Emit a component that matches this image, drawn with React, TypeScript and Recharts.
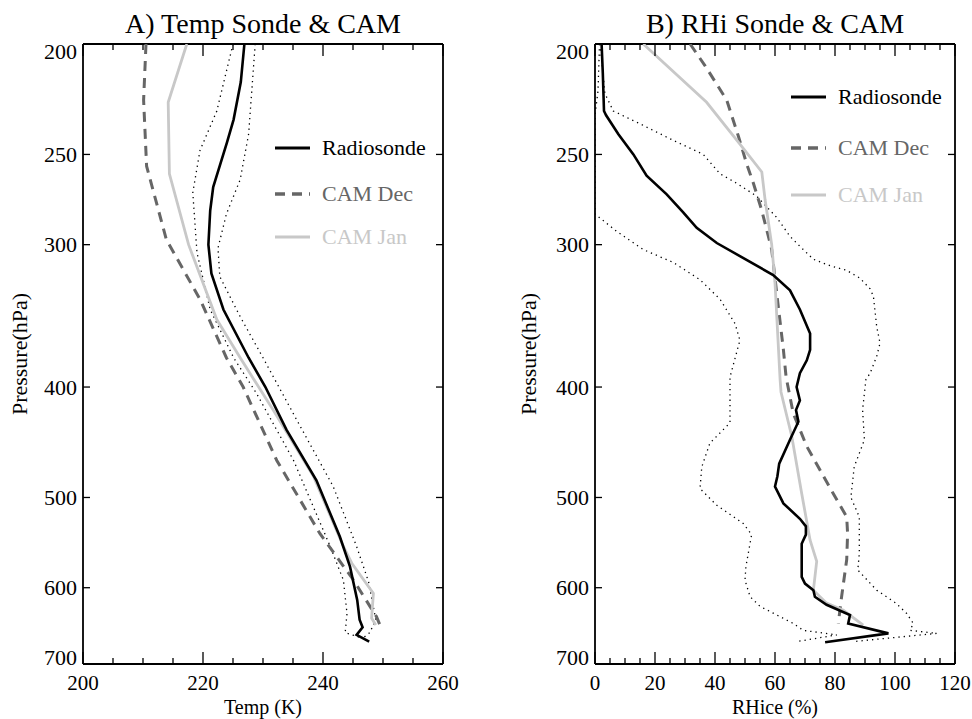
import { Scatter, ScatterChart, XAxis, YAxis } from "recharts";

// pressure levels (hPa) + values
const pressureTicks = [200, 250, 300, 400, 500, 600, 700];
const tempTicks = [200, 205, 210, 215, 220, 225, 230, 235, 240, 245, 250, 255, 260];
const rhTicks = [0, 5, 10, 15, 20, 25, 30, 35, 40, 45, 50, 55, 60, 65, 70, 75, 80, 85, 90, 95, 100, 105, 110, 115, 120];

// A) temperature (K)
const tSondeP = [200, 216, 233, 244, 267, 280, 300, 318, 342, 377, 400, 436, 483, 541, 575, 615, 640, 650, 660, 669];
const tSondeT = [226.9, 226.3, 225.1, 224.0, 221.7, 221.2, 220.9, 221.4, 223.4, 227.6, 230.4, 233.9, 238.9, 242.8, 244.5, 245.7, 246.1, 246.6, 245.6, 247.7];
const tSondeLoP = [200, 229, 248, 270, 305, 342, 377, 405, 464, 552, 591, 632, 657, 664];
const tSondeLoT = [225.0, 222.3, 219.5, 218.3, 219.0, 221.2, 225.1, 228.9, 235.1, 241.2, 243.4, 244.0, 243.7, 246.4];
const tSondeHiP = [200, 240, 263, 282, 302, 320, 347, 377, 433, 489, 552, 593, 640, 657, 664];
const tSondeHiT = [228.7, 227.6, 226.2, 223.9, 222.5, 222.8, 226.2, 230.0, 236.2, 241.7, 245.6, 247.6, 248.8, 247.8, 246.7];
const tDecP = [200, 224, 256, 297, 335, 377, 400, 464, 538, 591, 636, 647];
const tDecT = [210.5, 210.1, 210.6, 213.9, 219.5, 223.9, 226.7, 232.3, 239.5, 245.1, 248.9, 249.5];
const tJanP = [200, 225, 260, 300, 349, 377, 419, 479, 552, 571, 607, 638, 647];
const tJanT = [217.3, 214.2, 214.4, 217.6, 222.3, 226.2, 231.7, 238.4, 243.4, 244.8, 248.4, 248.1, 248.8];

// B) RH over ice (%)
const rSondeP = [200, 212, 229, 231, 240, 250, 261, 271, 281, 290, 299, 307, 319, 329, 342, 359, 371, 379, 389, 400, 411, 419, 429, 445, 467, 479, 489, 506, 522, 530, 539, 549, 587, 595, 603, 611, 621, 634, 645, 658, 670];
const rSondeV = [2.2, 2.6, 3.0, 3.7, 7.8, 12.8, 17.2, 23.9, 29.4, 33.9, 40.6, 48.3, 59.4, 65.0, 68.3, 71.7, 71.7, 70.6, 68.3, 67.2, 68.3, 67.0, 67.8, 65.0, 61.4, 60.8, 60.0, 62.8, 68.3, 70.3, 70.3, 68.9, 68.9, 70.0, 72.8, 73.3, 77.2, 85.0, 84.4, 97.8, 76.7];
const rSondeLoP = [200, 220, 231, 282, 292, 303, 311, 322, 335, 352, 364, 392, 430, 448, 470, 491, 508, 527, 539, 575, 591, 611, 623, 645, 654, 660, 669];
const rSondeLoV = [1.5, 1.0, 0, 0, 7.2, 16.1, 26.1, 35.0, 41.7, 46.7, 48.3, 45.0, 45.0, 38.3, 35.6, 35.0, 40.6, 49.4, 52.2, 50.3, 50.0, 51.7, 55.0, 66.1, 69.4, 80.6, 67.2];
const rSondeHiP = [200, 221, 229, 235, 243, 250, 260, 265, 272, 284, 295, 301, 309, 313, 316, 321, 328, 333, 354, 366, 376, 389, 394, 419, 445, 470, 500, 520, 560, 579, 603, 619, 632, 645, 654, 658, 669];
const rSondeHiV = [1.7, 3.3, 6.1, 15.0, 26.1, 36.1, 41.7, 47.2, 53.9, 60.6, 65.0, 68.3, 72.8, 78.3, 83.9, 88.3, 91.7, 92.8, 93.9, 95.0, 93.9, 91.7, 90.3, 89.2, 89.8, 86.4, 85.3, 88.1, 88.1, 87.6, 93.9, 100.3, 103.9, 106.1, 105.0, 113.9, 86.1];
const rDecP = [200, 209, 224, 241, 255, 265, 280, 303, 340, 371, 392, 422, 451, 473, 496, 520, 538, 567, 611, 645];
const rDecV = [31.7, 36.7, 43.9, 47.8, 50.6, 52.8, 55.6, 58.9, 61.1, 62.8, 63.7, 66.1, 70.6, 75.0, 79.4, 83.9, 84.2, 83.9, 82.2, 81.1];
const rJanP = [200, 225, 246, 259, 274, 300, 324, 394, 404, 442, 496, 545, 569, 603, 619, 628, 647];
const rJanV = [16.1, 37.2, 48.9, 55.6, 56.7, 58.9, 60.0, 61.7, 62.0, 65.6, 68.9, 71.7, 73.9, 72.8, 77.2, 82.8, 89.4];

const FONT = '"Liberation Serif", "Times New Roman", Times, serif';
const DEC = "#666666";
const JAN = "#c8c8c8";

const zip = (p: number[], v: number[]) => p.map((pp, i) => ({ p: pp, v: v[i] }));

type Line = { data: { p: number; v: number }[]; stroke: string; width: number; dash?: string };

const styles = {
  sonde: { stroke: "#000", width: 2.6 },
  sd: { stroke: "#000", width: 1.3, dash: "1.3 4" },
  dec: { stroke: DEC, width: 3, dash: "10 7" },
  jan: { stroke: JAN, width: 2.8 }
};

const NoDot = () => <g />;

function xTick(majorEvery: number, side: "bottom" | "top") {
  return (props: any) => {
    const { x, y, payload } = props;
    const major = payload.value % majorEvery === 0;
    const len = major ? 12 : 6;
    const dir = side === "bottom" ? -1 : 1;
    return (
      <g>
        <line x1={x} x2={x} y1={y} y2={y + dir * len} stroke="#000" strokeWidth={1.3} />
        {side === "bottom" && major && (
          <text x={x} y={y + 26} textAnchor="middle" fontSize={21} fontFamily={FONT} fill="#000">
            {payload.value}
          </text>
        )}
      </g>
    );
  };
}

function yTick(side: "left" | "right") {
  return (props: any) => {
    const { x, y, payload } = props;
    const dir = side === "left" ? 1 : -1;
    // end labels are nudged inside the frame like the original
    const shift = payload.value === 200 ? 7 : payload.value === 700 ? -7 : 0;
    return (
      <g>
        <line x1={x} x2={x + dir * 7} y1={y} y2={y} stroke="#000" strokeWidth={1.3} />
        {side === "left" && (
          <text x={x - 6} y={y + shift} dy="0.35em" textAnchor="end" fontSize={22} fontFamily={FONT} fill="#000">
            {payload.value}
          </text>
        )}
      </g>
    );
  };
}

const axisLine = { stroke: "#000", strokeWidth: 1.8 };

// axes are 1px thick, so margins are 1px less than the plot edges
function Panel({
  left,
  marginLeft,
  marginRight,
  domain,
  ticks,
  majorEvery,
  lines
}: {
  left: number;
  marginLeft: number;
  marginRight: number;
  domain: [number, number];
  ticks: number[];
  majorEvery: number;
  lines: Line[];
}) {
  return (
    <div style={{ position: "absolute", left, top: 0 }}>
      <ScatterChart width={486} height={719} margin={{ top: 43, bottom: 54, left: marginLeft, right: marginRight }}>
        <XAxis
          xAxisId="b"
          type="number"
          dataKey="v"
          domain={domain}
          ticks={ticks}
          interval={0}
          allowDataOverflow
          height={1}
          tickSize={0}
          tickMargin={0}
          tickLine={false}
          axisLine={axisLine}
          tick={xTick(majorEvery, "bottom")}
        />
        <XAxis
          xAxisId="t"
          orientation="top"
          type="number"
          dataKey="v"
          domain={domain}
          ticks={ticks}
          interval={0}
          allowDataOverflow
          height={1}
          tickSize={0}
          tickMargin={0}
          tickLine={false}
          axisLine={axisLine}
          tick={xTick(majorEvery, "top")}
        />
        <YAxis
          yAxisId="l"
          type="number"
          dataKey="p"
          scale="log"
          domain={[200, 700]}
          ticks={pressureTicks}
          interval={0}
          reversed
          allowDataOverflow
          width={1}
          tickSize={0}
          tickMargin={0}
          tickLine={false}
          axisLine={axisLine}
          tick={yTick("left")}
        />
        <YAxis
          yAxisId="r"
          orientation="right"
          type="number"
          dataKey="p"
          scale="log"
          domain={[200, 700]}
          ticks={pressureTicks}
          interval={0}
          reversed
          allowDataOverflow
          width={1}
          tickSize={0}
          tickMargin={0}
          tickLine={false}
          axisLine={axisLine}
          tick={yTick("right")}
        />
        {lines.map((l, i) => (
          <Scatter
            key={i}
            xAxisId="b"
            yAxisId="l"
            data={l.data}
            fill={l.stroke}
            shape={NoDot}
            line={{ stroke: l.stroke, strokeWidth: l.width, strokeDasharray: l.dash, fill: "none" }}
            isAnimationActive={false}
          />
        ))}
      </ScatterChart>
    </div>
  );
}

function LegendRow({ x, y, label, s }: { x: number; y: number; label: string; s: { stroke: string; width: number; dash?: string } }) {
  return (
    <g>
      <line x1={x} x2={x + 35} y1={y} y2={y} stroke={s.stroke} strokeWidth={s.width + 0.4} strokeDasharray={s.dash} />
      <text x={x + 47} y={y} dy="0.33em" fontSize={22} fontFamily={FONT} fill={s.stroke}>
        {label}
      </text>
    </g>
  );
}

export default function App() {
  const tempLines: Line[] = [
    { data: zip(tSondeLoP, tSondeLoT), ...styles.sd },
    { data: zip(tSondeHiP, tSondeHiT), ...styles.sd },
    { data: zip(tDecP, tDecT), ...styles.dec },
    { data: zip(tJanP, tJanT), ...styles.jan },
    { data: zip(tSondeP, tSondeT), ...styles.sonde }
  ];
  const rhLines: Line[] = [
    { data: zip(rSondeLoP, rSondeLoV), ...styles.sd },
    { data: zip(rSondeHiP, rSondeHiV), ...styles.sd },
    { data: zip(rDecP, rDecV), ...styles.dec },
    { data: zip(rJanP, rJanV), ...styles.jan },
    { data: zip(rSondeP, rSondeV), ...styles.sonde }
  ];

  return (
    <div style={{ position: "absolute", left: 0, top: 0, width: 972, height: 719, background: "#fff", overflow: "hidden" }}>
      <Panel left={0} marginLeft={82} marginRight={42} domain={[200, 260]} ticks={tempTicks} majorEvery={20} lines={tempLines} />
      <Panel left={486} marginLeft={108} marginRight={16} domain={[0, 120]} ticks={rhTicks} majorEvery={20} lines={rhLines} />
      <svg width={972} height={719} style={{ position: "absolute", left: 0, top: 0, pointerEvents: "none" }}>
        <g fontFamily={FONT} fill="#000">
          <text x={263} y={33} textAnchor="middle" fontSize={28}>A) Temp Sonde &amp; CAM</text>
          <text x={775} y={33} textAnchor="middle" fontSize={28}>B) RHi Sonde &amp; CAM</text>
          <text x={263} y={714} textAnchor="middle" fontSize={20}>Temp (K)</text>
          <text x={775} y={714} textAnchor="middle" fontSize={20}>RHice (%)</text>
          <text transform="translate(27,354) rotate(-90)" textAnchor="middle" fontSize={22}>Pressure(hPa)</text>
          <text transform="translate(536,354) rotate(-90)" textAnchor="middle" fontSize={22}>Pressure(hPa)</text>
        </g>
        <LegendRow x={275} y={148} label="Radiosonde" s={styles.sonde} />
        <LegendRow x={275} y={194} label="CAM Dec" s={styles.dec} />
        <LegendRow x={275} y={237} label="CAM Jan" s={styles.jan} />
        <LegendRow x={791} y={97} label="Radiosonde" s={styles.sonde} />
        <LegendRow x={791} y={148} label="CAM Dec" s={styles.dec} />
        <LegendRow x={791} y={195} label="CAM Jan" s={styles.jan} />
      </svg>
    </div>
  );
}
